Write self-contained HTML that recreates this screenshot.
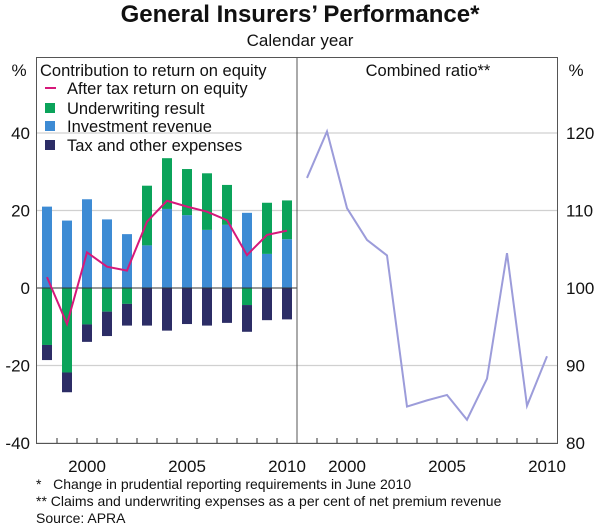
<!DOCTYPE html>
<html><head><meta charset="utf-8"><style>
body{margin:0;background:#fff;}
svg{display:block;font-family:"Liberation Sans",Arial,sans-serif;}
</style></head><body>
<svg id="chart" width="600" height="529" viewBox="0 0 600 529">
<text x="300" y="22" text-anchor="middle" font-size="24" font-weight="bold" fill="#111">General Insurers’ Performance*</text>
<text x="300" y="46" text-anchor="middle" font-size="17" fill="#111">Calendar year</text>
<g id="grid"></g>
<g id="bars"></g>
<g id="lines"></g>
<rect x="36.5" y="57.5" width="521" height="386" fill="none" stroke="#555" stroke-width="1"/>
<line x1="297" y1="57" x2="297" y2="443" stroke="#555"/>
<g id="axes"></g>
<text x="19" y="76" text-anchor="middle" font-size="17" fill="#111">%</text>
<text x="576" y="76" text-anchor="middle" font-size="17" fill="#111">%</text>
<text x="40" y="76" font-size="16.5" fill="#111">Contribution to return on equity</text>
<text x="428" y="76" text-anchor="middle" font-size="16.5" fill="#111">Combined ratio**</text>
<g>
<line x1="45" y1="88" x2="56" y2="88" stroke="#d6187a" stroke-width="2"/>
<text x="67" y="94" font-size="16.5" fill="#111">After tax return on equity</text>
<rect x="45" y="103" width="10" height="10" fill="#0ba35a"/>
<text x="67" y="114" font-size="16.5" fill="#111">Underwriting result</text>
<rect x="45" y="121" width="10" height="10" fill="#3d8bd4"/>
<text x="67" y="132" font-size="16.5" fill="#111">Investment revenue</text>
<rect x="45" y="140" width="10" height="10" fill="#2c2d66"/>
<text x="67" y="151" font-size="16.5" fill="#111">Tax and other expenses</text>
</g>
<text x="36" y="489" font-size="14" fill="#111" xml:space="preserve">*   Change in prudential reporting requirements in June 2010</text>
<text x="36" y="506" font-size="14" fill="#111">** Claims and underwriting expenses as a per cent of net premium revenue</text>
<text x="36" y="523" font-size="14" fill="#111">Source: APRA</text>
</svg>
<script>
const years=[1998,1999,2000,2001,2002,2003,2004,2005,2006,2007,2008,2009,2010];
const investment=[21.0,17.4,22.9,17.7,13.9,11.0,20.4,18.8,15.0,16.3,19.4,8.8,12.6];
const underwriting=[-14.7,-21.8,-9.4,-6.1,-4.1,15.4,13.1,11.9,14.6,10.3,-4.4,13.2,10.0];
const taxExpenses=[-3.9,-5.1,-4.5,-6.3,-5.6,-9.7,-11.0,-9.3,-9.7,-9.0,-6.9,-8.3,-8.1];
const roe=[2.8,-9.3,9.2,5.5,4.5,17.1,22.5,21.0,19.7,17.5,8.5,13.7,14.8];
const combinedRatio=[114.2,120.2,110.3,106.2,104.2,84.7,85.5,86.2,83.0,88.3,104.5,84.8,91.2];
const leftTicks=[40,20,0,-20,-40];
const rightTicks=[120,110,100,90,80];
const xLabels=[2000,2005,2010];

const NS="http://www.w3.org/2000/svg";
const yL=v=>288-v*3.875;
const yR=v=>288-(v-100)*7.75;
const xL=yr=>47+(yr-1998)*20;
const xR=yr=>307+(yr-1998)*20;
function mk(tag,attrs,parent){const e=document.createElementNS(NS,tag);for(const k in attrs)e.setAttribute(k,attrs[k]);document.getElementById(parent).appendChild(e);return e;}

leftTicks.forEach(t=>{
  if(t!==0){const g=mk('line',{x1:37,x2:557,y1:yL(t),y2:yL(t),stroke:'#d0d0d0','stroke-width':1.2},'grid');
  
  }
  const l=mk('text',{x:30,y:yL(t)+6,'text-anchor':'end','font-size':17,fill:'#111'},'axes');l.textContent=t;
  
  
});
const zl=mk('line',{x1:37,x2:297,y1:yL(0),y2:yL(0),stroke:'#333','stroke-width':1},'lines');


rightTicks.forEach(t=>{
  const l=mk('text',{x:566,y:yR(t)+6,'font-size':17,fill:'#111'},'axes');l.textContent=t;
  
  
});
years.forEach(yr=>{
  [xL(yr)+10,xR(yr)+10].forEach(x=>{
    if(x>=296&&x<=298||x>=556)return;
    const t=mk('line',{x1:x,x2:x,y1:438,y2:443,stroke:'#333'},'axes');
    
    
  });
});
xLabels.forEach(yr=>{
  [xL(yr),xR(yr)].forEach(x=>{
    const l=mk('text',{x:x,y:472,'text-anchor':'middle','font-size':17,fill:'#111'},'axes');l.textContent=yr;
    
    
  });
});
years.forEach((yr,i)=>{
  const x=xL(yr)-5;let pos=0,neg=0;
  const segs=[[investment[i],'#3d8bd4','bar-investment'],[underwriting[i],'#0ba35a','bar-underwriting'],[taxExpenses[i],'#2c2d66','bar-tax']];
  segs.forEach(([v,c,n])=>{
    let y0,y1;
    if(v>=0){y0=pos;y1=pos+v;pos=y1;}else{y0=neg;y1=neg+v;neg=y1;}
    const r=mk('rect',{x:x,width:10,y:Math.min(yL(y0),yL(y1)),height:Math.abs(yL(y1)-yL(y0)),fill:c},'bars');
    
    
  });
});
const p1=mk('polyline',{points:years.map((yr,i)=>xL(yr)+','+yL(roe[i])).join(' '),fill:'none',stroke:'#d6187a','stroke-width':2},'lines');


const p2=mk('polyline',{points:years.map((yr,i)=>xR(yr)+','+yR(combinedRatio[i])).join(' '),fill:'none',stroke:'#9c9cda','stroke-width':2},'lines');


</script>
</body></html>
